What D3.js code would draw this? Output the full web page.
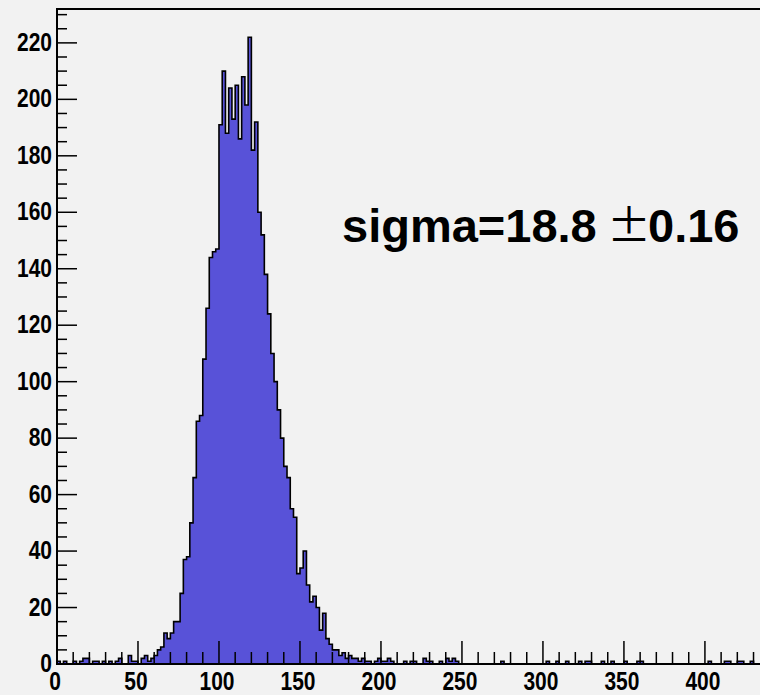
<!DOCTYPE html>
<html lang="en">
<head>
    <meta charset="UTF-8">
    <title>sigma histogram</title>
    <style>
        body {
            margin: 0;
            padding: 0;
            background-color: #f2f2f2;
        }
        svg {
            display: block;
        }
        .tick-label {
            font-family: 'Liberation Sans', Arial, sans-serif;
            font-weight: bold;
            font-size: 25px;
            fill: #000;
        }
    </style>
</head>
<body>
    <div id="chart"></div>

    <script src="https://d3js.org/d3.v7.min.js"></script>
    <script>
        // histogram bins: first bin edge and width (x units)
        const binLow = 0;
        const binWidth = 2;

        // counts per bin (0 .. 434)
        const counts = [
            1, 0, 1, 0, 0, 1, 0, 1, 2, 2,          // 0 - 18
            0, 1, 1, 0, 1, 0, 1, 0, 1, 2,          // 20 - 38
            0, 0, 3, 1, 1, 0, 2, 3, 1, 2,          // 40 - 58
            3, 5, 6, 11, 9, 11, 15, 15, 25, 37,    // 60 - 78
            38, 50, 66, 86, 88, 108, 126, 144, 146, 147,   // 80 - 98
            191, 210, 188, 204, 193, 205, 186, 208, 198, 222, // 100 - 118
            182, 192, 160, 152, 138, 124, 110, 100, 90, 80,   // 120 - 138
            70, 66, 55, 52, 32, 34, 40, 28, 22, 24,  // 140 - 158
            20, 12, 18, 9, 7, 5, 5, 3, 4, 2,       // 160 - 178
            3, 2, 2, 1, 2, 1, 1, 0, 1, 2,          // 180 - 198
            1, 1, 2, 1, 0, 0, 0, 1, 0, 1,          // 200 - 218
            1, 0, 0, 2, 1, 1, 0, 0, 1, 0,          // 220 - 238
            2, 1, 2, 1, 0, 0, 0, 0, 0, 0,          // 240 - 258
            0, 0, 0, 0, 0, 0, 0, 1, 0, 0,          // 260 - 278
            0, 0, 0, 0, 0, 0, 0, 0, 0, 0,          // 280 - 298
            0, 1, 0, 0, 1, 0, 0, 1, 0, 0,          // 300 - 318
            0, 1, 0, 1, 1, 0, 0, 0, 1, 0,          // 320 - 338
            0, 1, 0, 0, 0, 1, 0, 0, 0, 1,          // 340 - 358
            1, 0, 0, 0, 0, 0, 0, 0, 0, 0,          // 360 - 378
            0, 0, 0, 0, 0, 0, 0, 0, 0, 0,          // 380 - 398
            0, 1, 0, 0, 0, 0, 1, 1, 0, 0,          // 400 - 418
            1, 1, 0, 0, 1, 0, 0                    // 420 - 432
        ];

        const xTicks = d3.range(0, 431, 10);
        const xLabels = [0, 50, 100, 150, 200, 250, 300, 350, 400];
        const yTicks = d3.range(0, 231, 5);
        const yLabels = [0, 20, 40, 60, 80, 100, 120, 140, 160, 180, 200, 220];

        const annotation = { main: "sigma=18.8", pm: "\u00b1", err: "0.16" };

        const width = 760;
        const height = 695;
        const padL = 57, padR = 760, padT = 9, padB = 664;

        const x = d3.scaleLinear().domain([0, 434]).range([padL, padR]);
        const y = d3.scaleLinear().domain([0, 232]).range([padB, padT]);

        const svg = d3.select("#chart")
            .append("svg")
            .attr("width", width)
            .attr("height", height);

        svg.append("rect")
            .attr("width", width)
            .attr("height", height)
            .attr("fill", "#f2f2f2");

        svg.append("clipPath")
            .attr("id", "plot-clip")
            .append("rect")
            .attr("x", padL)
            .attr("y", padT)
            .attr("width", padR - padL)
            .attr("height", padB - padT);

        // step points: one per bin start, plus the closing edge
        const pts = counts.map((c, i) => ({ x: binLow + i * binWidth, y: c }));
        pts.push({ x: binLow + counts.length * binWidth, y: counts[counts.length - 1] });

        const area = d3.area()
            .curve(d3.curveStepAfter)
            .x(d => x(d.x))
            .y0(y(0))
            .y1(d => y(d.y));

        const line = d3.line()
            .curve(d3.curveStepAfter)
            .x(d => x(d.x))
            .y(d => y(d.y));

        const plot = svg.append("g").attr("clip-path", "url(#plot-clip)");

        plot.append("path")
            .datum(pts)
            .attr("d", area)
            .attr("fill", "#5852d8");

        plot.append("path")
            .datum(pts)
            .attr("d", line)
            .attr("fill", "none")
            .attr("stroke", "#000")
            .attr("stroke-width", 1.6);

        // frame: left axis, bottom axis, top line
        const frame = svg.append("g")
            .attr("stroke", "#000")
            .attr("stroke-width", 2)
            .attr("fill", "none");

        frame.append("line")
            .attr("x1", padL).attr("x2", padL)
            .attr("y1", padT).attr("y2", padB + 1);
        frame.append("line")
            .attr("x1", padL - 1).attr("x2", padR)
            .attr("y1", padB).attr("y2", padB);
        frame.append("line")
            .attr("x1", padL - 1).attr("x2", padR)
            .attr("y1", padT).attr("y2", padT);

        // x ticks (pointing up)
        svg.append("g")
            .selectAll("line")
            .data(xTicks)
            .join("line")
            .attr("x1", d => x(d)).attr("x2", d => x(d))
            .attr("y1", padB)
            .attr("y2", d => padB - (d % 50 === 0 ? 23 : 12))
            .attr("stroke", "#000")
            .attr("stroke-width", 1.5);

        // y ticks (pointing right)
        svg.append("g")
            .selectAll("line")
            .data(yTicks)
            .join("line")
            .attr("y1", d => y(d)).attr("y2", d => y(d))
            .attr("x1", padL)
            .attr("x2", d => padL + (d % 20 === 0 ? 20 : 10))
            .attr("stroke", "#000")
            .attr("stroke-width", 1.5);

        const sx = 0.84;

        svg.append("g")
            .selectAll("text")
            .data(xLabels)
            .join("text")
            .attr("class", "tick-label")
            .attr("text-anchor", "middle")
            .attr("transform", d => `translate(${x(d) - 2},${padB + 26}) scale(${sx},1)`)
            .text(d => d);

        svg.append("g")
            .selectAll("text")
            .data(yLabels)
            .join("text")
            .attr("class", "tick-label")
            .attr("text-anchor", "end")
            .attr("transform", d => `translate(52,${y(d) + 8}) scale(${sx},1)`)
            .text(d => d);

        // annotation
        const note = svg.append("text")
            .attr("x", 342)
            .attr("y", 242)
            .style("font-family", "'Liberation Sans', Arial, sans-serif")
            .style("font-weight", "bold")
            .style("font-size", "47px")
            .attr("fill", "#000");

        note.append("tspan").text(annotation.main);
        note.append("tspan")
            .attr("x", 607)
            .style("font-family", "'Noto Sans CJK JP', sans-serif")
            .style("font-weight", "normal")
            .style("font-size", "44px")
            .text(annotation.pm);
        note.append("tspan")
            .attr("x", 648)
            .text(annotation.err);
    </script>
</body>
</html>
